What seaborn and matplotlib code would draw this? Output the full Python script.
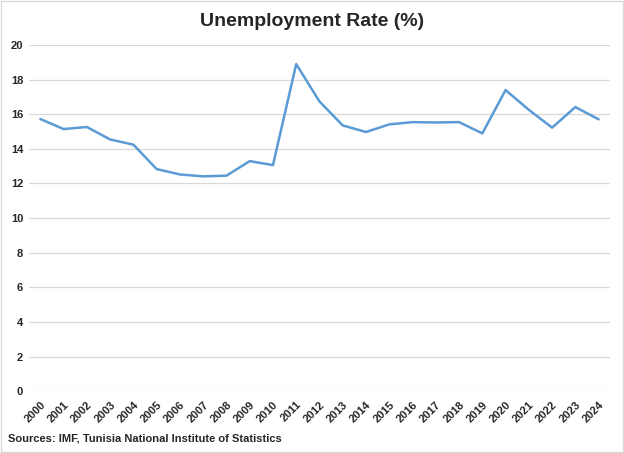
import matplotlib
matplotlib.use("Agg")
import matplotlib.pyplot as plt
import seaborn as sns
import pandas as pd
from matplotlib.patches import Rectangle

years = [str(y) for y in range(2000, 2025)]
rate = [15.72, 15.14, 15.26, 14.54, 14.24, 12.83, 12.52, 12.41, 12.45, 13.29,
        13.06, 18.89, 16.73, 15.35, 14.97, 15.41, 15.54, 15.52, 15.54, 14.89,
        17.39, 16.25, 15.22, 16.41, 15.70]
yticks = [0, 2, 4, 6, 8, 10, 12, 14, 16, 18, 20]

df = pd.DataFrame({"Year": years, "Rate": rate})

sns.set_theme(style="white")
plt.rcParams['font.family'] = ['Liberation Sans Narrow', 'Liberation Sans', 'DejaVu Sans']

fig = plt.figure(figsize=(6.24, 4.53), dpi=100)
ax = fig.add_axes([0.046, 0.136, 0.932, 0.765])

sns.lineplot(data=df, x="Year", y="Rate", ax=ax, color="#5B9BD5", linewidth=1.8, sort=False)

ax.set_xlim(-0.5, len(years) - 0.5)
ax.set_ylim(0, 20)
ax.set_yticks(yticks)
ax.set_yticklabels([str(v) for v in yticks], fontsize=8, fontweight="bold")
ax.set_xticks(range(len(years)))
ax.set_xticklabels(years, rotation=45, ha="right", rotation_mode="anchor",
                   fontsize=8, fontweight="bold")
ax.tick_params(axis="both", length=0, pad=4)
ax.tick_params(axis="x", pad=6)
ax.yaxis.grid(True, color="#D9D9D9", linewidth=0.9)
ax.xaxis.grid(False)
for s in ax.spines.values():
    s.set_visible(False)
ax.set_xlabel("")
ax.set_ylabel("")

fig.text(0.5, 0.952, "Unemployment Rate (%)", ha="center", va="center",
         fontsize=14, fontweight="bold")
fig.text(0.013, 0.033, "Sources: IMF, Tunisia National Institute of Statistics",
         ha="left", va="center", fontsize=8, fontweight="bold")

fig.patches.append(Rectangle((0.0015, 0.002), 0.997, 0.996, transform=fig.transFigure,
                             fill=False, edgecolor="#D9D9D9", linewidth=1.0))

fig.savefig("out.png", dpi=100)
